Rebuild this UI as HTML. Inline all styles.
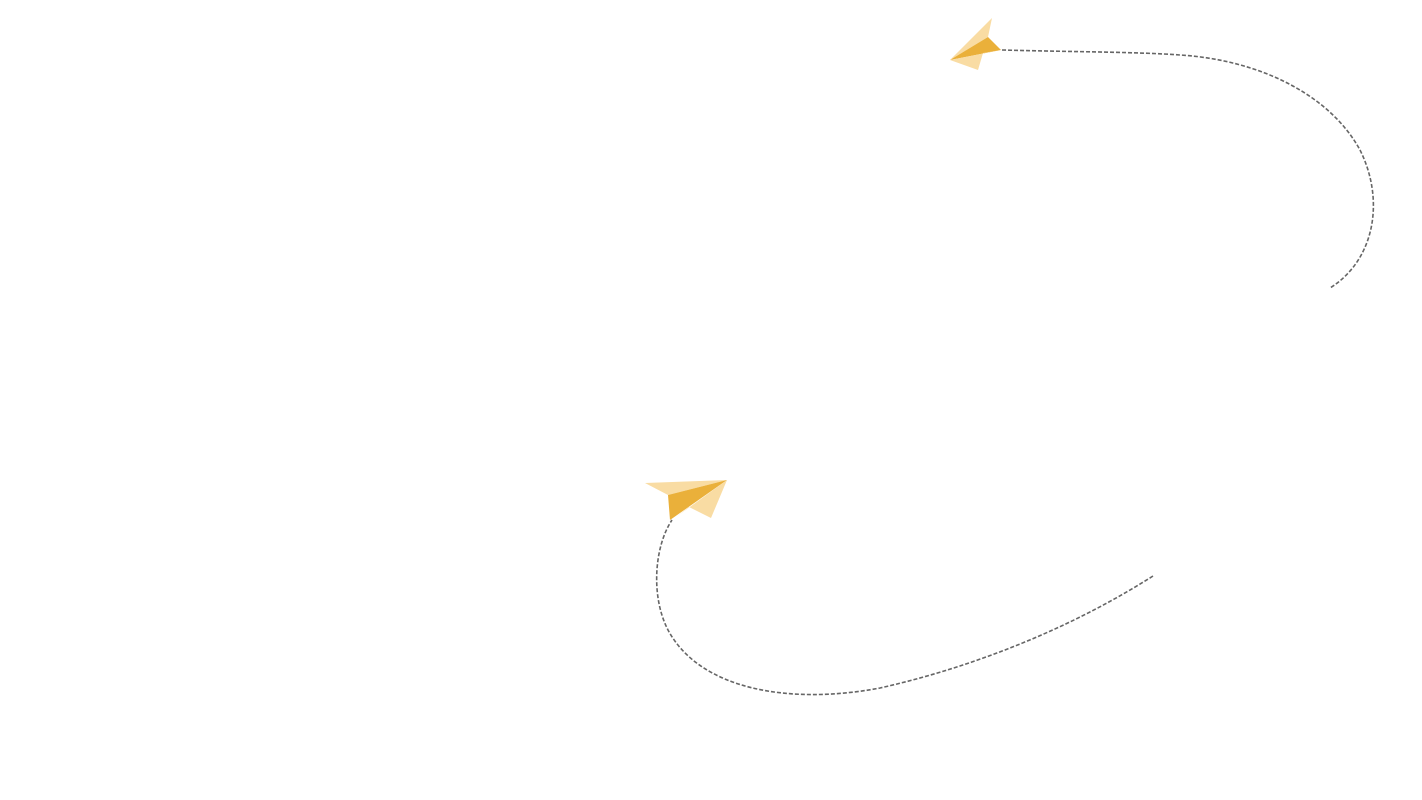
<!DOCTYPE html>
<html><head><style>html,body{margin:0;padding:0;background:#fff;width:1422px;height:800px;overflow:hidden}</style></head>
<body>
<svg width="1422" height="800" viewBox="0 0 1422 800" xmlns="http://www.w3.org/2000/svg">
<g fill="none" stroke="#666" stroke-width="1.6" stroke-dasharray="4 2">
<path d="M1002 50 C1080 52 1140 52 1180 55 C1260 60 1330 95 1360 150 C1385 200 1375 260 1330 288"/>
<path d="M1153 576 C1060 635 960 670 880 688 C790 705 700 690 668 630 C650 595 655 545 672 520"/>
</g>
<polygon points="950,60 992,18 988,37" fill="#f9dca3"/>
<polygon points="950,60 988,37 1001,50" fill="#eab03a"/>
<polygon points="950,60 1001,50 983,53 978,70" fill="#f9dca3"/>
<polygon points="645,483 727,480 668,495" fill="#f9dca3"/>
<polygon points="668,495 727,480 670,520" fill="#eab03a"/>
<polygon points="727,480 711,518 689,507 676,517" fill="#f9dca3"/>
</svg>
</body></html>
